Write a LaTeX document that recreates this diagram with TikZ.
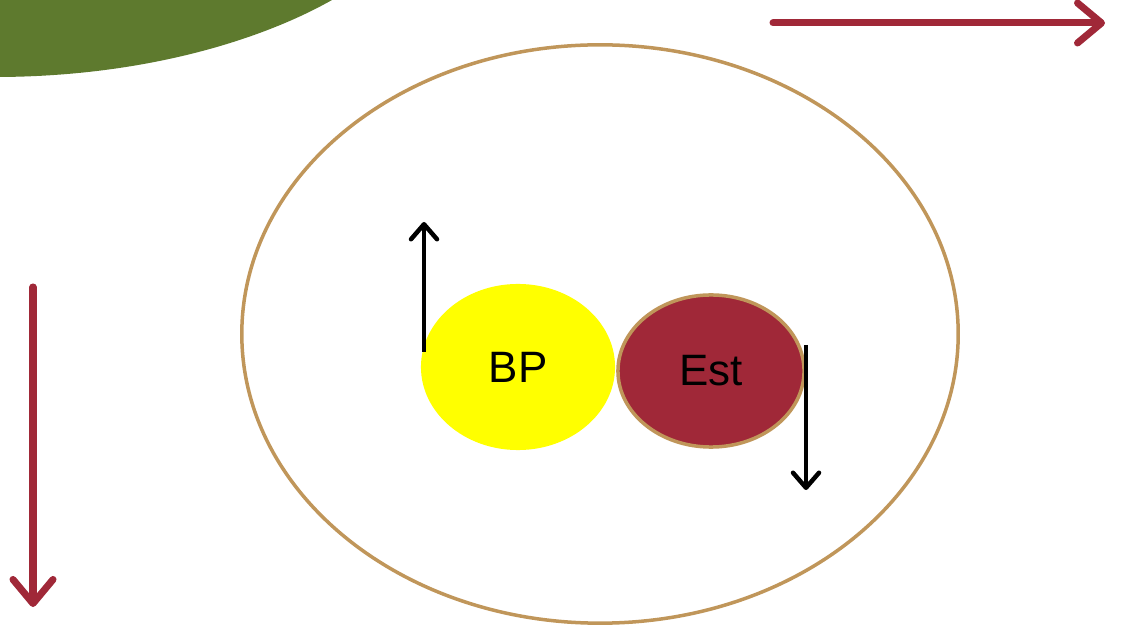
\documentclass[tikz,border=0pt]{standalone}
\usepackage{fontspec}
\setmainfont{Liberation Sans}
\usetikzlibrary{shapes.geometric,arrows.meta}
\definecolor{leafgreen}{RGB}{94,122,46}
\definecolor{winered}{RGB}{160,40,56}
\definecolor{tanline}{RGB}{192,150,90}
\definecolor{bpyellow}{RGB}{255,255,0}
\tikzset{
  redarrow/.style={winered, line width=0.07cm, line cap=round,
    -{Straight Barb[length=0.24cm, width=0.4cm, round]}},
  blackarrow/.style={black, line width=0.045cm,
    -{Straight Barb[length=0.15cm, width=0.26cm, round]}},
  cellbox/.style={ellipse, inner sep=0pt, font=\fontsize{12.5}{14}\selectfont}
}
\begin{document}
\begin{tikzpicture}[x=0.01cm, y=-0.01cm]
  \useasboundingbox (0,0) rectangle (1122,625);

  % Green corner shape
  \fill [leafgreen] (0,0) -- (0,77) .. controls (150,76) and (265,38) .. (332,0) -- cycle;

  % Outer ellipse
  \node [cellbox, draw=tanline, line width=0.035cm, minimum width=7.16cm, minimum height=5.78cm] (cell) at (600,334) {};

  % Inner ellipses
  \node [cellbox, fill=bpyellow, minimum width=1.94cm, minimum height=1.66cm] (bp) at (518,367) {BP};
  \node [cellbox, fill=winered, draw=tanline, line width=0.035cm, minimum width=1.86cm, minimum height=1.52cm] (est) at (711,371) {Est};

  % Red arrows
  \coordinate (topA) at (773,23);
  \coordinate (topB) at (1105,23);
  \coordinate (leftA) at (33,287);
  \coordinate (leftB) at (33,607);
  \draw [redarrow] (topA) -- (topB);
  \draw [redarrow] (leftA) -- (leftB);

  % Black arrows
  \coordinate (upA) at (424,352);
  \coordinate (upB) at (424,222);
  \coordinate (downA) at (806,345);
  \coordinate (downB) at (806,490);
  \draw [blackarrow] (upA) -- (upB);
  \draw [blackarrow] (downA) -- (downB);
\end{tikzpicture}
\end{document}
